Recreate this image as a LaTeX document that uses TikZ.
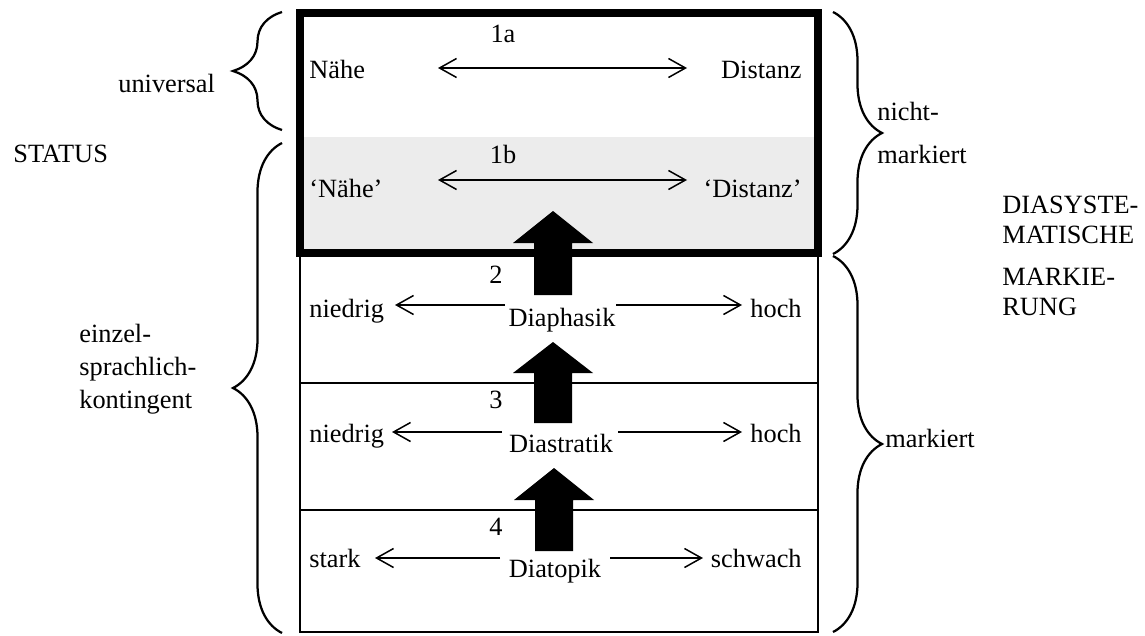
\documentclass[tikz,border=0pt]{standalone}
\usepackage{fontspec}
\setmainfont{Liberation Serif}
\usetikzlibrary{arrows.meta,decorations.pathreplacing}
\definecolor{bandgray}{HTML}{ECECEC}
\begin{document}
\begin{tikzpicture}[x=0.02cm,y=-0.02cm,
  lbl/.style={inner sep=0pt,font=\fontsize{15pt}{18pt}\selectfont},
  thinline/.style={line width=0.04cm},
  thickbox/.style={line width=0.16cm},
  arr/.style={line width=0.03cm,-{Straight Barb[length=0.34cm,width=0.38cm,line width=0.03cm]}},
  darr/.style={line width=0.03cm,{Straight Barb[length=0.34cm,width=0.38cm,line width=0.03cm]}-{Straight Barb[length=0.34cm,width=0.38cm,line width=0.03cm]}},
  brc/.style={line width=0.045cm,decorate,decoration={brace,amplitude=0.98cm}},
  bigarrow/.style={fill=black}]
\useasboundingbox (0,0) rectangle (1145,635);
% gray band
\fill[bandgray] (300,137) rectangle (818,253);
% lower boxes
\draw[thinline] (300,253) rectangle (818,632);
\draw[thinline] (300,383) -- (818,383);
\draw[thinline] (300,510) -- (818,510);
% thick box
\draw[thickbox] (300,13) rectangle (818,253);
% big arrows
\fill[bigarrow] (534,295) -- (534,243) -- (513,243) -- (553,211) -- (593,243) -- (572,243) -- (572,295) -- cycle;
\fill[bigarrow] (534,423) -- (534,373) -- (513,373) -- (553,342) -- (593,373) -- (572,373) -- (572,423) -- cycle;
\fill[bigarrow] (535,551) -- (535,500) -- (514,500) -- (554,468) -- (594,500) -- (573,500) -- (573,551) -- cycle;
% row 1a
\node[lbl,anchor=base] (n1a) at (503,43) {1a};
\node[lbl,anchor=base west] (naehe) at (309,79) {Nähe};
\node[lbl,anchor=base east] (distanz) at (802,79) {Distanz};
\coordinate (a1l) at (438,68);
\coordinate (a1r) at (687,68);
\draw[darr] (a1l) -- (a1r);
% row 1b
\node[lbl,anchor=base] (n1b) at (503,163) {1b};
\node[lbl,anchor=base west] (qnaehe) at (309,197) {‘Nähe’};
\node[lbl,anchor=base east] (qdistanz) at (802,197) {‘Distanz’};
\coordinate (b1l) at (438,180);
\coordinate (b1r) at (687,180);
\draw[darr] (b1l) -- (b1r);
% row 2
\node[lbl,anchor=base] (n2) at (496,283) {2};
\node[lbl,anchor=base west] (nied2) at (309,317) {niedrig};
\node[lbl,anchor=base east] (hoch2) at (802,317) {hoch};
\node[lbl,anchor=base] (dph) at (562,326) {Diaphasik};
\coordinate (r2ls) at (505,305);
\coordinate (r2le) at (395,305);
\coordinate (r2rs) at (616,305);
\coordinate (r2re) at (742,305);
\draw[arr] (r2ls) -- (r2le);
\draw[arr] (r2rs) -- (r2re);
% row 3
\node[lbl,anchor=base] (n3) at (496,408) {3};
\node[lbl,anchor=base west] (nied3) at (309,442) {niedrig};
\node[lbl,anchor=base east] (hoch3) at (802,442) {hoch};
\node[lbl,anchor=base] (dst) at (561,452) {Diastratik};
\coordinate (r3ls) at (502,432);
\coordinate (r3le) at (392,432);
\coordinate (r3rs) at (618,432);
\coordinate (r3re) at (742,432);
\draw[arr] (r3ls) -- (r3le);
\draw[arr] (r3rs) -- (r3re);
% row 4
\node[lbl,anchor=base] (n4) at (496,535) {4};
\node[lbl,anchor=base west] (stark) at (309,567) {stark};
\node[lbl,anchor=base east] (schwach) at (802,567) {schwach};
\node[lbl,anchor=base] (dtp) at (555,577) {Diatopik};
\coordinate (r4ls) at (500,558);
\coordinate (r4le) at (375,558);
\coordinate (r4rs) at (610,558);
\coordinate (r4re) at (703,558);
\draw[arr] (r4ls) -- (r4le);
\draw[arr] (r4rs) -- (r4re);
% left braces and labels
\coordinate (lb1b) at (282,130);
\coordinate (lb1t) at (282,12);
\draw[brc] (lb1b) -- (lb1t);
\coordinate (lb2b) at (282,633);
\coordinate (lb2t) at (282,143);
\draw[brc] (lb2b) -- (lb2t);
\node[lbl,anchor=base west] (univ) at (118,92) {universal};
\node[lbl,anchor=base west] (status) at (13,162) {STATUS};
\node[lbl,anchor=base west] (ez1) at (79,342) {einzel-};
\node[lbl,anchor=base west] (ez2) at (79,375) {sprachlich-};
\node[lbl,anchor=base west] (ez3) at (79,408) {kontingent};
% right braces and labels
\coordinate (rb1t) at (833,12);
\coordinate (rb1b) at (833,254);
\draw[brc] (rb1t) -- (rb1b);
\coordinate (rb2t) at (833,256);
\coordinate (rb2b) at (833,632);
\draw[brc] (rb2t) -- (rb2b);
\node[lbl,anchor=base west] (nm1) at (877,120) {nicht-};
\node[lbl,anchor=base west] (nm2) at (877,163) {markiert};
\node[lbl,anchor=base west] (mk) at (885,447) {markiert};
\node[lbl,anchor=base west] (ds1) at (1002,213) {DIASYSTE-};
\node[lbl,anchor=base west] (ds2) at (1002,243) {MATISCHE};
\node[lbl,anchor=base west] (ds3) at (1002,285) {MARKIE-};
\node[lbl,anchor=base west] (ds4) at (1002,315) {RUNG};
\end{tikzpicture}
\end{document}
